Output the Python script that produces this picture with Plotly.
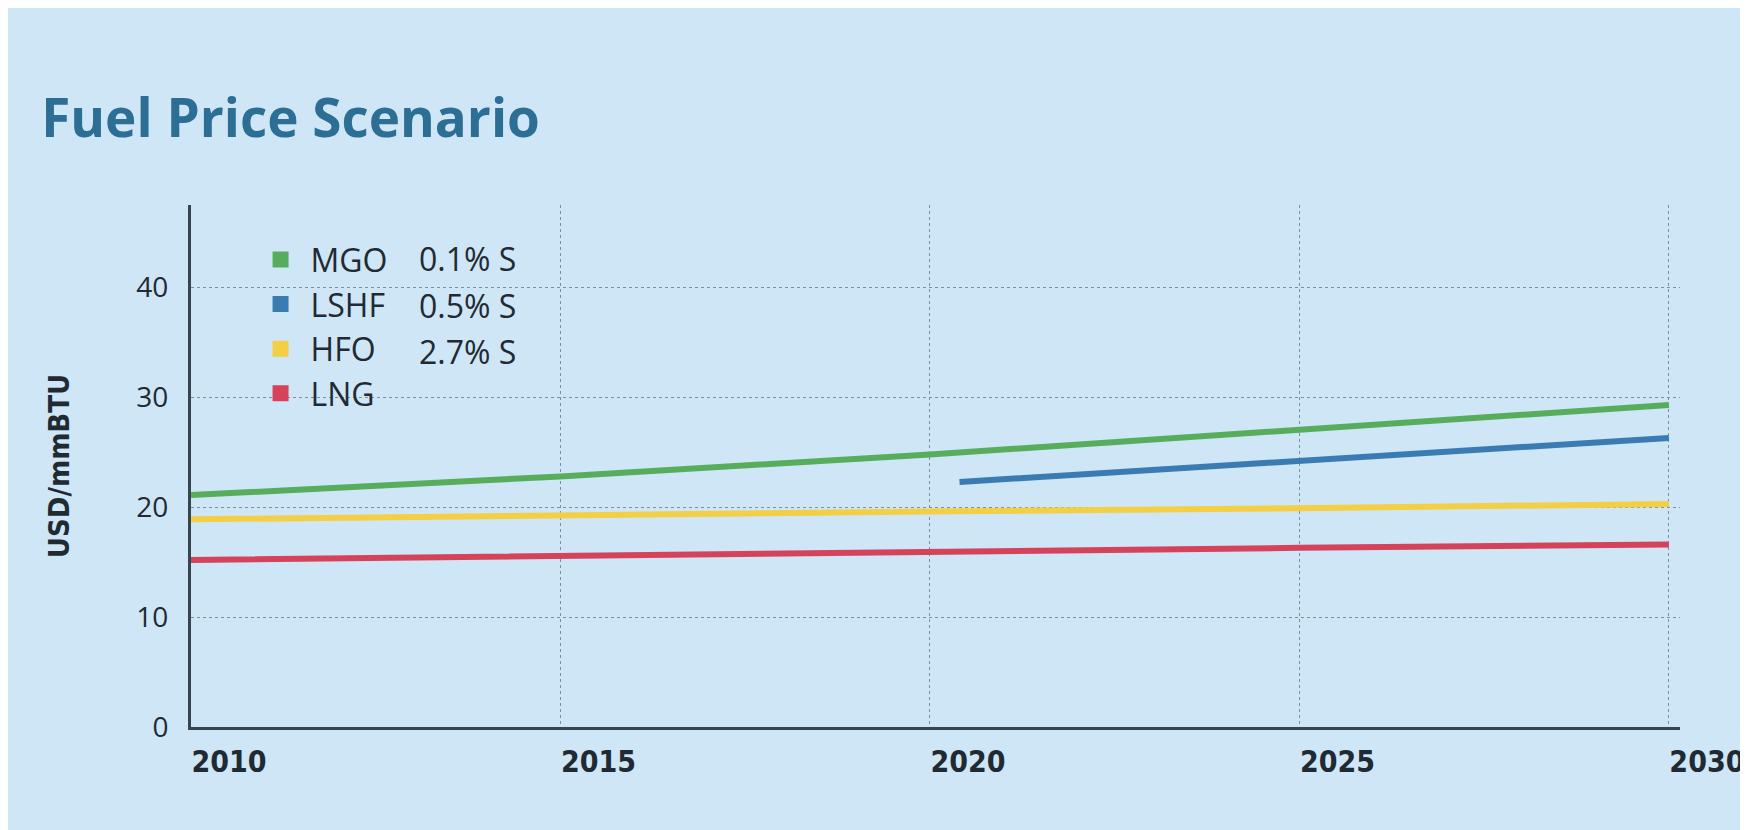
import plotly.graph_objects as go

years = [2010, 2015, 2020, 2025, 2030]
mgo = [21.1, 22.8, 24.8, 27.0, 29.3]
lshf_years = [2020.4, 2025, 2030]
lshf = [22.3, 24.2, 26.3]
hfo = [18.9, 19.3, 19.6, 19.9, 20.3]
lng = [15.2, 15.6, 16.0, 16.3, 16.6]

series_names = ["MGO", "LSHF", "HFO", "LNG"]
sulfur_labels = ["0.1% S", "0.5% S", "2.7% S", ""]
colors = ["#58ad5c", "#3b7bb3", "#f2cf45", "#d4435a"]
y_ticks = [0, 10, 20, 30, 40]
x_ticks = [2010, 2015, 2020, 2025, 2030]

fig = go.Figure()
data = [(years, mgo), (lshf_years, lshf), (years, hfo), (years, lng)]
for (xs, ys), name, col in zip(data, series_names, colors):
    fig.add_trace(go.Scatter(x=xs, y=ys, mode="lines", name=name,
                             line=dict(color=col, width=6), showlegend=False))
# legend entries with square swatches
for name, col in zip(series_names, colors):
    fig.add_trace(go.Scatter(x=[None], y=[None], mode="markers", name=name,
                             marker=dict(symbol="square", size=21, color=col)))

grid = dict(showgrid=True, gridcolor="#7f909c", gridwidth=1, griddash="dot")

fig.update_layout(
    width=1748, height=830,
    paper_bgcolor="#cfe6f6", plot_bgcolor="#cfe6f6",
    margin=dict(l=183, r=68, t=197, b=111),
    title=dict(text="<b>Fuel Price Scenario</b>", x=0.019, xanchor="left", y=0.867, yanchor="middle",
               font=dict(family="Open Sans", size=53, color="#2d6e95")),
    font=dict(family="Open Sans", color="#1f2a33"),
    legend=dict(x=0.04, y=0.948, xanchor="left", yanchor="top", bgcolor="rgba(0,0,0,0)",
                font=dict(size=32, family="Open Sans", color="#1f2a33"),
                itemwidth=50, tracegroupgap=0),
    xaxis=dict(range=[2010, 2030.15], tickvals=x_ticks, ticks="", showline=True,
               linecolor="#37454f", linewidth=3, zeroline=False,
               tickfont=dict(size=30, family="DejaVu Sans Condensed", weight="bold", color="#1f2a33"),
               ticklabelshift=38, ticklabelstandoff=6, **grid),
    yaxis=dict(range=[0, 47.5], tickvals=y_ticks, ticks="", showline=True,
               linecolor="#37454f", linewidth=3, zeroline=False,
               tickfont=dict(size=28, family="Open Sans", color="#1f2a33"),
               ticklabelstandoff=14,
               title=dict(text="<b>USD/mmBTU</b>", font=dict(size=29, family="DejaVu Sans Condensed"),
                          standoff=59), **grid),
)

for i, lab in enumerate(sulfur_labels):
    if lab:
        fig.add_annotation(text=lab, xref="paper", yref="paper", x=0.152, y=0.897 - i * 0.089,
                           xanchor="left", yanchor="middle", showarrow=False,
                           font=dict(size=32, family="Open Sans", color="#1f2a33"))

fig.write_html("out.html")
